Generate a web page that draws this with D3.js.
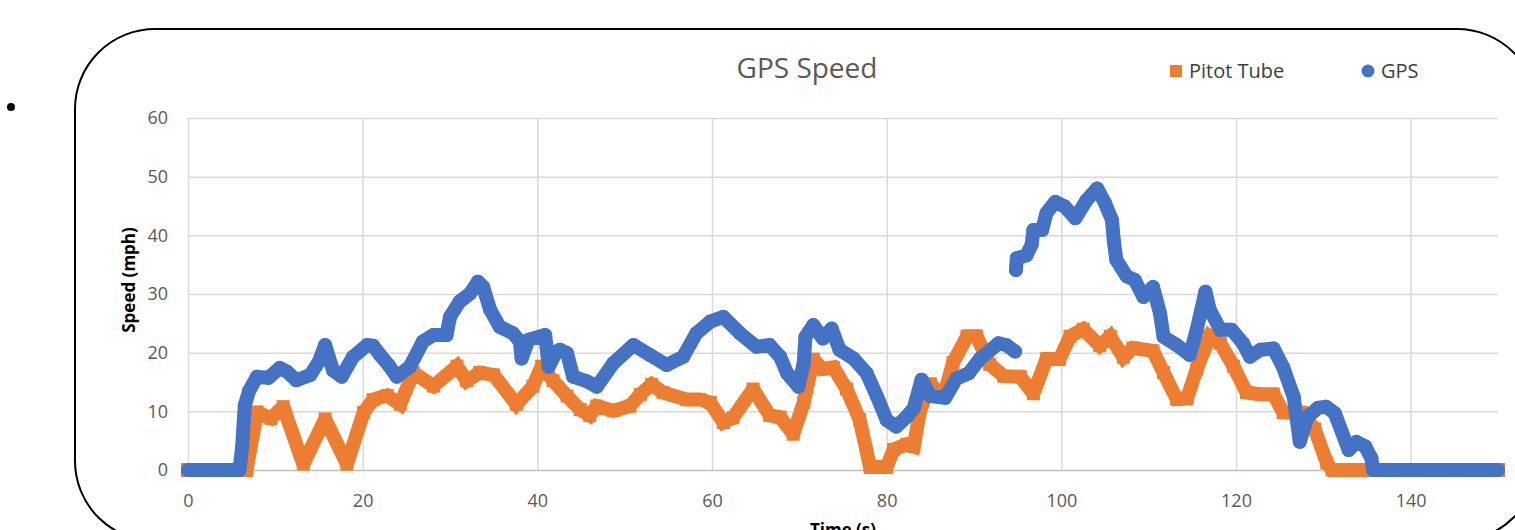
<!DOCTYPE html>
<html>
<head>
<meta charset="utf-8">
<script src="https://cdn.jsdelivr.net/npm/d3@7"></script>
<style>
  body { margin: 0; background: #fff; }
  svg { display: block; font-family: "Open Sans", "Noto Sans", sans-serif; }
</style>
</head>
<body>
<svg id="chart" width="1515" height="530"></svg>
<script>
// values (time in s, speed in mph)
var pitotTime = [0, 3, 6.7, 7.9, 9.5, 10.9, 13.2, 15.7, 18.2, 20.1, 21.2, 22.8, 24.3, 25.8, 28.1, 30.8, 31.9, 33.4, 35.0,
    37.6, 39.5, 40.5, 41.8, 43.4, 44.9, 46.0, 46.8, 48.7, 50.6, 51.8, 53.1, 54.4, 57.1, 58.6, 59.8, 61.3, 62.4, 64.7,
    66.6, 67.8, 69.3, 70.5, 71.6, 72.6, 73.9, 75.4, 76.9, 78.1, 80.0, 80.8, 82.3, 83.1, 83.8, 85.0, 86.5, 87.6, 89.2,
    90.3, 91.8, 93.4, 95.3, 96.8, 98.3, 99.8, 101.0, 102.5, 104.4, 105.6, 107.1, 108.2, 110.5, 111.7, 113.2, 114.4,
    115.5, 117.0, 118.2, 119.7, 121.2, 122.8, 124.3, 125.4, 127.5, 129.0, 130.4, 131.0, 135, 140, 145, 150];
var pitotSpeed = [0, 0, 0, 9.9, 8.8, 10.8, 1.0, 8.7, 1.0, 9.8, 12.0, 12.7, 11.2, 16.6, 14.3, 17.7, 15.2, 16.6, 16.2,
    11.2, 14.3, 17.7, 15.2, 12.6, 10.3, 9.3, 10.9, 10.1, 10.9, 12.9, 14.6, 13.2, 12.0, 12.0, 11.5, 8.1, 8.9, 13.8,
    9.3, 9.0, 6.1, 11.5, 18.9, 17.2, 17.5, 13.8, 8.6, 0.5, 0.5, 3.5, 4.4, 4.0, 10.0, 14.7, 12.4, 18.3, 22.8,
    22.8, 18.0, 16.0, 15.9, 13.0, 18.9, 18.9, 22.8, 24.0, 21.2, 22.8, 19.2, 20.8, 20.3, 16.6, 12.1, 12.2,
    17.2, 22.8, 21.6, 17.7, 13.2, 12.9, 12.9, 9.8, 9.8, 7.0, 1.2, 0, 0, 0, 0, 0];

// null marks the break in the GPS record near 95 s
var gpsTime = [0, 3, 5.9, 6.2, 6.5, 7.0, 7.9, 9.2, 10.5, 11.3, 12.4, 14.0, 15.0, 15.7, 16.6, 17.6, 18.9, 20.5, 21.2,
    22.0, 23.0, 23.9, 25.4, 26.9, 28.1, 29.6, 30.0, 31.1, 32.3, 33.2, 33.8, 34.6, 35.7, 37.2, 38.0, 38.2, 39.0, 40.9,
    41.3, 42.2, 42.6, 43.4, 44.1, 45.7, 46.8, 48.7, 51.0, 52.9, 54.8, 56.7, 58.2, 59.8, 61.3, 63.2, 65.1, 66.6, 67.8,
    68.6, 69.9, 70.5, 70.7, 71.6, 72.7, 73.7, 74.6, 76.2, 77.7, 78.9, 80.0, 81.1, 82.3, 83.1, 84.0, 85.0, 86.7, 88.0,
    89.4, 90.7, 92.8, 93.7, 94.7, null,
    94.8, 94.9, 96.0, 96.6, 96.8, 97.8, 98.3, 99.3, 100.4, 101.6, 102.9, 104.1, 105.0, 105.8, 106.0, 106.3, 107.5,
    108.4, 109.4, 110.5, 111.3, 111.7, 113.2, 114.7, 115.5, 116.5, 117.0, 118.2, 119.5, 120.8, 121.6, 122.8, 124.3,
    125.4, 126.6, 127.3, 128.2, 129.4, 130.3, 131.3, 132.9, 133.8, 134.8, 135.5, 135.7, 140, 145, 150];
var gpsSpeed = [0, 0, 0, 4.0, 11.0, 13.5, 15.9, 15.7, 17.4, 16.8, 15.3, 16.2, 18.5, 21.3, 17.0, 15.9, 19.3, 21.3, 21.2,
    19.6, 17.8, 15.9, 17.6, 21.9, 23.0, 23.0, 26.1, 28.7, 30.1, 32.1, 31.2, 27.3, 24.4, 23.3, 21.9, 19.0, 22.2, 23.0,
    17.6, 20.2, 20.5, 19.9, 15.9, 15.1, 14.2, 18.2, 21.3, 19.6, 17.9, 19.3, 23.3, 25.3, 26.1, 23.3, 21.0, 21.3, 19.3,
    16.5, 14.2, 18.2, 22.7, 24.7, 22.4, 24.1, 20.5, 19.0, 16.5, 12.5, 8.5, 7.4, 9.1, 10.5, 15.4, 12.6, 12.3, 15.6,
    16.5, 19.0, 21.6, 21.3, 20.2, null,
    34.1, 36.1, 36.6, 38.4, 40.9, 40.9, 43.8, 45.7, 44.9, 42.9, 46.0, 48.0, 45.5, 42.6, 39.2, 35.8, 33.0,
    32.4, 29.5, 31.2, 26.7, 22.7, 21.3, 19.6, 23.9, 30.4, 27.3, 23.9, 23.9, 21.6, 19.3, 20.5, 20.7,
    17.5, 12.5, 4.8, 9.1, 10.6, 10.8, 9.7, 3.4, 4.8, 4.0, 2.0, 0, 0, 0, 0];

var xTicks = [0, 20, 40, 60, 80, 100, 120, 140];
var yTicks = [0, 10, 20, 30, 40, 50, 60];
var seriesNames = ["Pitot Tube", "GPS"];
var seriesColors = ["#ED7D31", "#4472C4"];

var svg = d3.select("#chart");

// slide frame and bullet
svg.append("rect")
    .attr("x", 75).attr("y", 29)
    .attr("width", 1462).attr("height", 512)
    .attr("rx", 80).attr("ry", 80)
    .attr("fill", "none").attr("stroke", "#000").attr("stroke-width", 2);
svg.append("circle").attr("cx", 11).attr("cy", 107).attr("r", 4).attr("fill", "#000");

var x = d3.scaleLinear().domain([0, 150]).range([188, 1498]);
var y = d3.scaleLinear().domain([0, 60]).range([470, 118]);

// gridlines + tick labels
var yAxis = svg.append("g")
    .attr("transform", "translate(188,0)")
    .call(d3.axisLeft(y).tickValues(yTicks).tickSize(-(1498 - 188)).tickPadding(20));
var xAxis = svg.append("g")
    .attr("transform", "translate(0,470)")
    .call(d3.axisBottom(x).tickValues(xTicks).tickSize(-(470 - 118)).tickPadding(24));

[yAxis, xAxis].forEach(function (g) {
    g.select(".domain").remove();
    g.selectAll(".tick line").attr("stroke", "#d9d9d9").attr("stroke-width", 1.5);
    g.selectAll(".tick text")
        .attr("fill", "#595959")
        .style("font-size", "18px")
        .style("font-family", "'Open Sans', sans-serif");
});
yAxis.selectAll(".tick line").filter(function (d) { return d === 0; }).attr("stroke", "#bfbfbf");

// series
var pitotData = pitotTime.map(function (t, i) { return {t: t, v: pitotSpeed[i]}; });
var gpsData = gpsTime.map(function (t, i) { return {t: t, v: gpsSpeed[i]}; });

var line = d3.line()
    .defined(function (d) { return d.t !== null && d.v !== null; })
    .x(function (d) { return x(d.t); })
    .y(function (d) { return y(d.v); });

svg.append("path")
    .datum(pitotData)
    .attr("d", line)
    .attr("fill", "none")
    .attr("stroke", seriesColors[0])
    .attr("stroke-width", 14)
    .attr("stroke-linejoin", "miter")
    .attr("stroke-miterlimit", 1.6)
    .attr("stroke-linecap", "square");

svg.append("g").selectAll("rect")
    .data(pitotData)
    .enter().append("rect")
    .attr("x", function (d) { return x(d.t) - 6.5; })
    .attr("y", function (d) { return y(d.v) - 6.5; })
    .attr("width", 13).attr("height", 13)
    .attr("fill", seriesColors[0]);

svg.append("path")
    .datum(gpsData)
    .attr("d", line)
    .attr("fill", "none")
    .attr("stroke", seriesColors[1])
    .attr("stroke-width", 14)
    .attr("stroke-linejoin", "round")
    .attr("stroke-linecap", "round");

svg.append("g").selectAll("circle")
    .data(gpsData.filter(function (d) { return d.t !== null; }))
    .enter().append("circle")
    .attr("cx", function (d) { return x(d.t); })
    .attr("cy", function (d) { return y(d.v); })
    .attr("r", 7)
    .attr("fill", seriesColors[1]);

// title
svg.append("text")
    .attr("x", 807).attr("y", 78)
    .attr("text-anchor", "middle")
    .attr("fill", "#595959")
    .style("font-size", "28px")
    .text("GPS Speed");

// legend
svg.append("rect").attr("x", 1170).attr("y", 65).attr("width", 12).attr("height", 12).attr("fill", seriesColors[0]);
svg.append("text").attr("x", 1189).attr("y", 78).attr("fill", "#404040").style("font-size", "20px").text(seriesNames[0]);
svg.append("circle").attr("cx", 1368).attr("cy", 71).attr("r", 6.5).attr("fill", seriesColors[1]);
svg.append("text").attr("x", 1381).attr("y", 78).attr("fill", "#404040").style("font-size", "20px").text(seriesNames[1]);

// axis titles
svg.append("text")
    .attr("transform", "translate(135,280) rotate(-90)")
    .attr("text-anchor", "middle")
    .attr("fill", "#000")
    .style("font-size", "17px").style("font-weight", "bold")
    .text("Speed (mph)");
svg.append("text")
    .attr("x", 843).attr("y", 536)
    .attr("text-anchor", "middle")
    .attr("fill", "#000")
    .style("font-size", "17px").style("font-weight", "bold")
    .text("Time (s)");
</script>
</body>
</html>
